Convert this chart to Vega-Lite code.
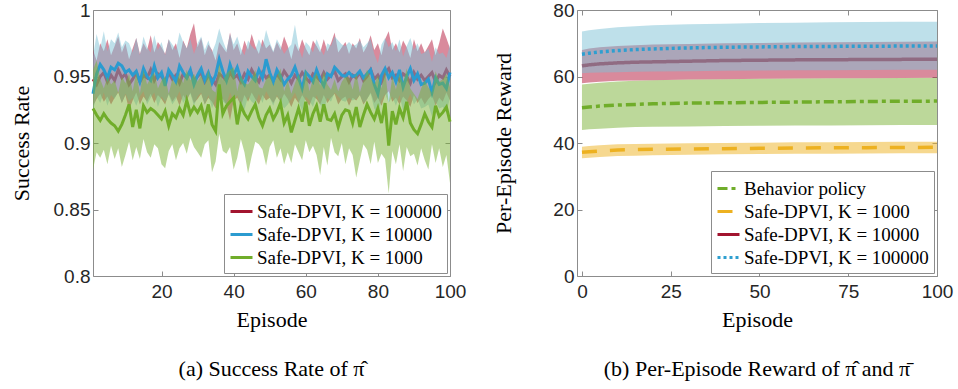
{
  "$schema": "https://vega.github.io/schema/vega-lite/v6.json",
  "padding": {"left": 9, "top": 0, "right": 2, "bottom": 0},
  "spacing": 25,
  "resolve": {"scale": {"color": "independent", "strokeDash": "independent"}, "legend": {"color": "independent", "strokeDash": "independent"}},
  "config": {
    "font": "Liberation Serif",
    "view": {"stroke": "#8c8c8c", "strokeWidth": 1},
    "axis": {"grid": false, "domain": false, "tickColor": "#8c8c8c", "tickSize": -5, "labelFont": "Liberation Sans", "labelFontSize": 19, "labelColor": "#262626", "labelFlush": false, "titleFont": "Liberation Serif", "titleFontSize": 22, "titleFontWeight": "normal", "titleColor": "#000000", "labelPadding": 8},
    "axisX": {"labelPadding": 11},
    "legend": {"orient": "bottom-right", "offset": 3, "fillColor": "#ffffff", "strokeColor": "#8c8c8c", "padding": 5, "labelFont": "Liberation Serif", "labelFontSize": 19, "labelFontWeight": "normal", "labelColor": "#000000", "labelLimit": 400, "symbolType": "stroke", "symbolStrokeWidth": 3, "symbolSize": 484, "rowPadding": 0, "labelOffset": 3, "cornerRadius": 0},
    "title": {"font": "Liberation Serif", "fontSize": 22, "fontWeight": "normal", "color": "#000000", "orient": "bottom", "anchor": "middle", "offset": 29}
  },
  "datasets": {
    "red": [
      {"e":1,"m":0.948,"lo":0.928,"hi":0.970},{"e":2,"m":0.944,"lo":0.933,"hi":0.962},{"e":3,"m":0.950,"lo":0.937,"hi":0.975},{"e":4,"m":0.953,"lo":0.931,"hi":0.969},{"e":5,"m":0.946,"lo":0.935,"hi":0.978},
      {"e":6,"m":0.951,"lo":0.929,"hi":0.966},{"e":7,"m":0.947,"lo":0.934,"hi":0.973},{"e":8,"m":0.955,"lo":0.938,"hi":0.980},{"e":9,"m":0.949,"lo":0.930,"hi":0.968},{"e":10,"m":0.952,"lo":0.936,"hi":0.975},
      {"e":11,"m":0.944,"lo":0.925,"hi":0.963},{"e":12,"m":0.948,"lo":0.932,"hi":0.971},{"e":13,"m":0.953,"lo":0.938,"hi":0.979},{"e":14,"m":0.946,"lo":0.929,"hi":0.967},{"e":15,"m":0.951,"lo":0.935,"hi":0.975},
      {"e":16,"m":0.949,"lo":0.931,"hi":0.970},{"e":17,"m":0.955,"lo":0.937,"hi":0.981},{"e":18,"m":0.947,"lo":0.930,"hi":0.968},{"e":19,"m":0.952,"lo":0.936,"hi":0.976},{"e":20,"m":0.950,"lo":0.933,"hi":0.972},
      {"e":21,"m":0.946,"lo":0.929,"hi":0.967},{"e":22,"m":0.953,"lo":0.937,"hi":0.978},{"e":23,"m":0.948,"lo":0.931,"hi":0.970},{"e":24,"m":0.951,"lo":0.935,"hi":0.975},{"e":25,"m":0.945,"lo":0.928,"hi":0.964},
      {"e":26,"m":0.952,"lo":0.936,"hi":0.977},{"e":27,"m":0.949,"lo":0.932,"hi":0.971},{"e":28,"m":0.954,"lo":0.938,"hi":0.982},{"e":29,"m":0.947,"lo":0.930,"hi":0.990},{"e":30,"m":0.950,"lo":0.933,"hi":0.972},
      {"e":31,"m":0.953,"lo":0.937,"hi":0.979},{"e":32,"m":0.946,"lo":0.929,"hi":0.966},{"e":33,"m":0.951,"lo":0.934,"hi":0.974},{"e":34,"m":0.948,"lo":0.931,"hi":0.970},{"e":35,"m":0.944,"lo":0.926,"hi":0.962},
      {"e":36,"m":0.952,"lo":0.935,"hi":0.976},{"e":37,"m":0.950,"lo":0.933,"hi":0.972},{"e":38,"m":0.947,"lo":0.929,"hi":0.968},{"e":39,"m":0.953,"lo":0.917,"hi":0.983},{"e":40,"m":0.949,"lo":0.932,"hi":0.970},
      {"e":41,"m":0.951,"lo":0.934,"hi":0.975},{"e":42,"m":0.946,"lo":0.928,"hi":0.966},{"e":43,"m":0.952,"lo":0.936,"hi":0.977},{"e":44,"m":0.948,"lo":0.931,"hi":0.970},{"e":45,"m":0.955,"lo":0.938,"hi":0.982},
      {"e":46,"m":0.950,"lo":0.933,"hi":0.973},{"e":47,"m":0.946,"lo":0.929,"hi":0.967},{"e":48,"m":0.953,"lo":0.936,"hi":0.978},{"e":49,"m":0.949,"lo":0.932,"hi":0.971},{"e":50,"m":0.951,"lo":0.934,"hi":0.974},
      {"e":51,"m":0.947,"lo":0.930,"hi":0.968},{"e":52,"m":0.952,"lo":0.935,"hi":0.976},{"e":53,"m":0.948,"lo":0.931,"hi":0.970},{"e":54,"m":0.954,"lo":0.937,"hi":0.980},{"e":55,"m":0.950,"lo":0.933,"hi":0.973},
      {"e":56,"m":0.945,"lo":0.927,"hi":0.963},{"e":57,"m":0.951,"lo":0.934,"hi":0.975},{"e":58,"m":0.948,"lo":0.930,"hi":0.969},{"e":59,"m":0.953,"lo":0.936,"hi":0.978},{"e":60,"m":0.949,"lo":0.932,"hi":0.971},
      {"e":61,"m":0.946,"lo":0.928,"hi":0.966},{"e":62,"m":0.952,"lo":0.935,"hi":0.977},{"e":63,"m":0.950,"lo":0.933,"hi":0.973},{"e":64,"m":0.947,"lo":0.929,"hi":0.968},{"e":65,"m":0.953,"lo":0.936,"hi":0.978},
      {"e":66,"m":0.948,"lo":0.930,"hi":0.969},{"e":67,"m":0.951,"lo":0.934,"hi":0.975},{"e":68,"m":0.954,"lo":0.937,"hi":0.983},{"e":69,"m":0.947,"lo":0.929,"hi":0.968},{"e":70,"m":0.950,"lo":0.933,"hi":0.972},
      {"e":71,"m":0.952,"lo":0.935,"hi":0.976},{"e":72,"m":0.946,"lo":0.928,"hi":0.967},{"e":73,"m":0.951,"lo":0.934,"hi":0.975},{"e":74,"m":0.949,"lo":0.932,"hi":0.971},{"e":75,"m":0.953,"lo":0.936,"hi":0.979},
      {"e":76,"m":0.947,"lo":0.929,"hi":0.968},{"e":77,"m":0.950,"lo":0.933,"hi":0.973},{"e":78,"m":0.955,"lo":0.938,"hi":0.981},{"e":79,"m":0.948,"lo":0.930,"hi":0.970},{"e":80,"m":0.951,"lo":0.934,"hi":0.975},
      {"e":81,"m":0.946,"lo":0.928,"hi":0.966},{"e":82,"m":0.953,"lo":0.936,"hi":0.978},{"e":83,"m":0.956,"lo":0.939,"hi":0.984},{"e":84,"m":0.949,"lo":0.931,"hi":0.970},{"e":85,"m":0.951,"lo":0.934,"hi":0.975},
      {"e":86,"m":0.947,"lo":0.929,"hi":0.968},{"e":87,"m":0.952,"lo":0.935,"hi":0.977},{"e":88,"m":0.950,"lo":0.932,"hi":0.972},{"e":89,"m":0.945,"lo":0.927,"hi":0.964},{"e":90,"m":0.953,"lo":0.936,"hi":0.978},
      {"e":91,"m":0.948,"lo":0.930,"hi":0.969},{"e":92,"m":0.951,"lo":0.934,"hi":0.975},{"e":93,"m":0.947,"lo":0.929,"hi":0.968},{"e":94,"m":0.950,"lo":0.933,"hi":0.973},{"e":95,"m":0.953,"lo":0.936,"hi":0.978},
      {"e":96,"m":0.946,"lo":0.928,"hi":0.966},{"e":97,"m":0.951,"lo":0.934,"hi":0.975},{"e":98,"m":0.949,"lo":0.931,"hi":0.986},{"e":99,"m":0.955,"lo":0.938,"hi":0.979},{"e":100,"m":0.950,"lo":0.932,"hi":0.971}
    ],
    "blue": [
      {"e":1,"m":0.937,"lo":0.925,"hi":0.965},{"e":2,"m":0.952,"lo":0.935,"hi":0.982},{"e":3,"m":0.959,"lo":0.930,"hi":0.971},{"e":4,"m":0.955,"lo":0.938,"hi":0.984},{"e":5,"m":0.949,"lo":0.928,"hi":0.969},
      {"e":6,"m":0.957,"lo":0.936,"hi":0.978},{"e":7,"m":0.955,"lo":0.933,"hi":0.975},{"e":8,"m":0.960,"lo":0.939,"hi":0.983},{"e":9,"m":0.958,"lo":0.930,"hi":0.972},{"e":10,"m":0.953,"lo":0.937,"hi":0.977},
      {"e":11,"m":0.955,"lo":0.931,"hi":0.975},{"e":12,"m":0.951,"lo":0.934,"hi":0.968},{"e":13,"m":0.954,"lo":0.928,"hi":0.979},{"e":14,"m":0.946,"lo":0.935,"hi":0.966},{"e":15,"m":0.956,"lo":0.939,"hi":0.980},
      {"e":16,"m":0.950,"lo":0.929,"hi":0.972},{"e":17,"m":0.947,"lo":0.934,"hi":0.968},{"e":18,"m":0.958,"lo":0.938,"hi":0.981},{"e":19,"m":0.949,"lo":0.927,"hi":0.970},{"e":20,"m":0.953,"lo":0.935,"hi":0.976},
      {"e":21,"m":0.943,"lo":0.931,"hi":0.966},{"e":22,"m":0.955,"lo":0.936,"hi":0.978},{"e":23,"m":0.951,"lo":0.929,"hi":0.974},{"e":24,"m":0.946,"lo":0.933,"hi":0.970},{"e":25,"m":0.958,"lo":0.939,"hi":0.983},
      {"e":26,"m":0.953,"lo":0.930,"hi":0.976},{"e":27,"m":0.949,"lo":0.934,"hi":0.971},{"e":28,"m":0.955,"lo":0.937,"hi":0.978},{"e":29,"m":0.944,"lo":0.928,"hi":0.967},{"e":30,"m":0.951,"lo":0.935,"hi":0.975},
      {"e":31,"m":0.956,"lo":0.938,"hi":0.980},{"e":32,"m":0.947,"lo":0.929,"hi":0.970},{"e":33,"m":0.953,"lo":0.936,"hi":0.977},{"e":34,"m":0.945,"lo":0.926,"hi":0.968},{"e":35,"m":0.951,"lo":0.934,"hi":0.975},
      {"e":36,"m":0.963,"lo":0.942,"hi":0.986},{"e":37,"m":0.954,"lo":0.931,"hi":0.977},{"e":38,"m":0.947,"lo":0.929,"hi":0.970},{"e":39,"m":0.959,"lo":0.938,"hi":0.982},{"e":40,"m":0.951,"lo":0.932,"hi":0.974},
      {"e":41,"m":0.957,"lo":0.936,"hi":0.980},{"e":42,"m":0.948,"lo":0.928,"hi":0.971},{"e":43,"m":0.944,"lo":0.925,"hi":0.966},{"e":44,"m":0.954,"lo":0.935,"hi":0.977},{"e":45,"m":0.950,"lo":0.931,"hi":0.973},
      {"e":46,"m":0.947,"lo":0.929,"hi":0.970},{"e":47,"m":0.955,"lo":0.937,"hi":0.978},{"e":48,"m":0.949,"lo":0.930,"hi":0.972},{"e":49,"m":0.963,"lo":0.939,"hi":0.985},{"e":50,"m":0.953,"lo":0.934,"hi":0.976},
      {"e":51,"m":0.946,"lo":0.928,"hi":0.969},{"e":52,"m":0.955,"lo":0.936,"hi":0.978},{"e":53,"m":0.950,"lo":0.931,"hi":0.973},{"e":54,"m":0.944,"lo":0.926,"hi":0.967},{"e":55,"m":0.948,"lo":0.929,"hi":0.971},
      {"e":56,"m":0.951,"lo":0.933,"hi":0.974},{"e":57,"m":0.957,"lo":0.938,"hi":0.989},{"e":58,"m":0.949,"lo":0.931,"hi":0.972},{"e":59,"m":0.941,"lo":0.924,"hi":0.964},{"e":60,"m":0.953,"lo":0.935,"hi":0.976},
      {"e":61,"m":0.950,"lo":0.932,"hi":0.973},{"e":62,"m":0.946,"lo":0.927,"hi":0.968},{"e":63,"m":0.955,"lo":0.936,"hi":0.978},{"e":64,"m":0.948,"lo":0.929,"hi":0.971},{"e":65,"m":0.943,"lo":0.925,"hi":0.966},
      {"e":66,"m":0.952,"lo":0.934,"hi":0.975},{"e":67,"m":0.950,"lo":0.931,"hi":0.973},{"e":68,"m":0.957,"lo":0.938,"hi":0.980},{"e":69,"m":0.954,"lo":0.935,"hi":0.977},{"e":70,"m":0.951,"lo":0.932,"hi":0.974},
      {"e":71,"m":0.950,"lo":0.931,"hi":0.973},{"e":72,"m":0.953,"lo":0.934,"hi":0.976},{"e":73,"m":0.950,"lo":0.932,"hi":0.973},{"e":74,"m":0.951,"lo":0.933,"hi":0.974},{"e":75,"m":0.954,"lo":0.936,"hi":0.977},
      {"e":76,"m":0.949,"lo":0.930,"hi":0.972},{"e":77,"m":0.952,"lo":0.933,"hi":0.975},{"e":78,"m":0.955,"lo":0.937,"hi":0.978},{"e":79,"m":0.944,"lo":0.926,"hi":0.967},{"e":80,"m":0.937,"lo":0.922,"hi":0.960},
      {"e":81,"m":0.951,"lo":0.932,"hi":0.974},{"e":82,"m":0.956,"lo":0.937,"hi":0.979},{"e":83,"m":0.949,"lo":0.930,"hi":0.972},{"e":84,"m":0.953,"lo":0.935,"hi":0.976},{"e":85,"m":0.946,"lo":0.928,"hi":0.969},
      {"e":86,"m":0.955,"lo":0.936,"hi":0.978},{"e":87,"m":0.942,"lo":0.924,"hi":0.965},{"e":88,"m":0.950,"lo":0.931,"hi":0.973},{"e":89,"m":0.956,"lo":0.937,"hi":0.979},{"e":90,"m":0.947,"lo":0.929,"hi":0.970},
      {"e":91,"m":0.952,"lo":0.933,"hi":0.975},{"e":92,"m":0.944,"lo":0.926,"hi":0.967},{"e":93,"m":0.945,"lo":0.927,"hi":0.968},{"e":94,"m":0.948,"lo":0.929,"hi":0.971},{"e":95,"m":0.938,"lo":0.920,"hi":0.961},
      {"e":96,"m":0.949,"lo":0.931,"hi":0.972},{"e":97,"m":0.944,"lo":0.926,"hi":0.967},{"e":98,"m":0.945,"lo":0.927,"hi":0.968},{"e":99,"m":0.941,"lo":0.923,"hi":0.964},{"e":100,"m":0.953,"lo":0.934,"hi":0.974}
    ],
    "green": [
      {"e":1,"m":0.926,"lo":0.880,"hi":0.955},{"e":2,"m":0.921,"lo":0.893,"hi":0.962},{"e":3,"m":0.917,"lo":0.889,"hi":0.948},{"e":4,"m":0.922,"lo":0.895,"hi":0.941},{"e":5,"m":0.918,"lo":0.884,"hi":0.950},
      {"e":6,"m":0.915,"lo":0.898,"hi":0.944},{"e":7,"m":0.913,"lo":0.888,"hi":0.947},{"e":8,"m":0.909,"lo":0.896,"hi":0.938},{"e":9,"m":0.914,"lo":0.882,"hi":0.950},{"e":10,"m":0.921,"lo":0.891,"hi":0.945},
      {"e":11,"m":0.929,"lo":0.901,"hi":0.952},{"e":12,"m":0.912,"lo":0.887,"hi":0.939},{"e":13,"m":0.925,"lo":0.897,"hi":0.953},{"e":14,"m":0.911,"lo":0.888,"hi":0.937},{"e":15,"m":0.928,"lo":0.903,"hi":0.955},
      {"e":16,"m":0.923,"lo":0.893,"hi":0.944},{"e":17,"m":0.926,"lo":0.889,"hi":0.949},{"e":18,"m":0.924,"lo":0.899,"hi":0.953},{"e":19,"m":0.921,"lo":0.896,"hi":0.941},{"e":20,"m":0.918,"lo":0.884,"hi":0.947},
      {"e":21,"m":0.924,"lo":0.881,"hi":0.950},{"e":22,"m":0.913,"lo":0.894,"hi":0.937},{"e":23,"m":0.922,"lo":0.899,"hi":0.948},{"e":24,"m":0.919,"lo":0.887,"hi":0.944},{"e":25,"m":0.926,"lo":0.896,"hi":0.953},
      {"e":26,"m":0.921,"lo":0.900,"hi":0.945},{"e":27,"m":0.932,"lo":0.892,"hi":0.955},{"e":28,"m":0.922,"lo":0.904,"hi":0.947},{"e":29,"m":0.927,"lo":0.897,"hi":0.952},{"e":30,"m":0.923,"lo":0.893,"hi":0.946},
      {"e":31,"m":0.928,"lo":0.889,"hi":0.951},{"e":32,"m":0.918,"lo":0.899,"hi":0.943},{"e":33,"m":0.929,"lo":0.902,"hi":0.955},{"e":34,"m":0.914,"lo":0.878,"hi":0.940},{"e":35,"m":0.909,"lo":0.886,"hi":0.938},
      {"e":36,"m":0.944,"lo":0.907,"hi":0.960},{"e":37,"m":0.922,"lo":0.894,"hi":0.947},{"e":38,"m":0.928,"lo":0.892,"hi":0.952},{"e":39,"m":0.931,"lo":0.897,"hi":0.955},{"e":40,"m":0.934,"lo":0.880,"hi":0.957},
      {"e":41,"m":0.914,"lo":0.889,"hi":0.939},{"e":42,"m":0.928,"lo":0.903,"hi":0.951},{"e":43,"m":0.922,"lo":0.893,"hi":0.945},{"e":44,"m":0.918,"lo":0.877,"hi":0.944},{"e":45,"m":0.924,"lo":0.890,"hi":0.948},
      {"e":46,"m":0.929,"lo":0.901,"hi":0.955},{"e":47,"m":0.919,"lo":0.899,"hi":0.942},{"e":48,"m":0.913,"lo":0.895,"hi":0.941},{"e":49,"m":0.921,"lo":0.883,"hi":0.948},{"e":50,"m":0.926,"lo":0.897,"hi":0.952},
      {"e":51,"m":0.918,"lo":0.902,"hi":0.943},{"e":52,"m":0.923,"lo":0.889,"hi":0.950},{"e":53,"m":0.930,"lo":0.896,"hi":0.956},{"e":54,"m":0.915,"lo":0.884,"hi":0.939},{"e":55,"m":0.921,"lo":0.893,"hi":0.947},
      {"e":56,"m":0.908,"lo":0.885,"hi":0.937},{"e":57,"m":0.917,"lo":0.899,"hi":0.945},{"e":58,"m":0.926,"lo":0.893,"hi":0.952},{"e":59,"m":0.916,"lo":0.887,"hi":0.940},{"e":60,"m":0.931,"lo":0.902,"hi":0.956},
      {"e":61,"m":0.913,"lo":0.893,"hi":0.939},{"e":62,"m":0.922,"lo":0.898,"hi":0.948},{"e":63,"m":0.928,"lo":0.891,"hi":0.953},{"e":64,"m":0.916,"lo":0.876,"hi":0.943},{"e":65,"m":0.929,"lo":0.897,"hi":0.954},
      {"e":66,"m":0.918,"lo":0.883,"hi":0.944},{"e":67,"m":0.917,"lo":0.904,"hi":0.940},{"e":68,"m":0.922,"lo":0.893,"hi":0.948},{"e":69,"m":0.912,"lo":0.890,"hi":0.939},{"e":70,"m":0.921,"lo":0.900,"hi":0.946},
      {"e":71,"m":0.925,"lo":0.884,"hi":0.950},{"e":72,"m":0.924,"lo":0.896,"hi":0.949},{"e":73,"m":0.915,"lo":0.891,"hi":0.940},{"e":74,"m":0.927,"lo":0.874,"hi":0.953},{"e":75,"m":0.912,"lo":0.887,"hi":0.938},
      {"e":76,"m":0.921,"lo":0.899,"hi":0.947},{"e":77,"m":0.929,"lo":0.895,"hi":0.955},{"e":78,"m":0.923,"lo":0.884,"hi":0.949},{"e":79,"m":0.918,"lo":0.901,"hi":0.944},{"e":80,"m":0.926,"lo":0.885,"hi":0.951},
      {"e":81,"m":0.915,"lo":0.892,"hi":0.941},{"e":82,"m":0.930,"lo":0.888,"hi":0.955},{"e":83,"m":0.898,"lo":0.862,"hi":0.930},{"e":84,"m":0.924,"lo":0.894,"hi":0.950},{"e":85,"m":0.914,"lo":0.884,"hi":0.940},
      {"e":86,"m":0.926,"lo":0.899,"hi":0.952},{"e":87,"m":0.919,"lo":0.879,"hi":0.945},{"e":88,"m":0.931,"lo":0.897,"hi":0.956},{"e":89,"m":0.915,"lo":0.890,"hi":0.941},{"e":90,"m":0.910,"lo":0.892,"hi":0.937},
      {"e":91,"m":0.907,"lo":0.883,"hi":0.933},{"e":92,"m":0.914,"lo":0.896,"hi":0.941},{"e":93,"m":0.922,"lo":0.887,"hi":0.947},{"e":94,"m":0.916,"lo":0.880,"hi":0.942},{"e":95,"m":0.912,"lo":0.899,"hi":0.938},
      {"e":96,"m":0.928,"lo":0.885,"hi":0.954},{"e":97,"m":0.920,"lo":0.896,"hi":0.946},{"e":98,"m":0.923,"lo":0.882,"hi":0.948},{"e":99,"m":0.927,"lo":0.891,"hi":0.952},{"e":100,"m":0.916,"lo":0.870,"hi":0.942}
    ],
    "reward": [
      {"s":"Behavior policy","e":0,"m":50.6,"lo":43.9,"hi":57.6},{"s":"Behavior policy","e":2,"m":50.8,"lo":44.1,"hi":57.8},{"s":"Behavior policy","e":5,"m":51.1,"lo":44.3,"hi":58.1},{"s":"Behavior policy","e":10,"m":51.4,"lo":44.6,"hi":58.5},{"s":"Behavior policy","e":15,"m":51.6,"lo":44.8,"hi":58.7},{"s":"Behavior policy","e":20,"m":51.8,"lo":44.9,"hi":58.9},{"s":"Behavior policy","e":30,"m":52.0,"lo":45.0,"hi":59.1},{"s":"Behavior policy","e":40,"m":52.1,"lo":45.1,"hi":59.2},{"s":"Behavior policy","e":50,"m":52.2,"lo":45.2,"hi":59.3},{"s":"Behavior policy","e":60,"m":52.3,"lo":45.25,"hi":59.4},{"s":"Behavior policy","e":70,"m":52.4,"lo":45.3,"hi":59.45},{"s":"Behavior policy","e":80,"m":52.5,"lo":45.35,"hi":59.5},{"s":"Behavior policy","e":90,"m":52.55,"lo":45.4,"hi":59.55},{"s":"Behavior policy","e":100,"m":52.6,"lo":45.4,"hi":59.6},
      {"s":"Safe-DPVI, K = 1000","e":0,"m":37.2,"lo":35.4,"hi":38.9},{"s":"Safe-DPVI, K = 1000","e":2,"m":37.4,"lo":35.6,"hi":39.1},{"s":"Safe-DPVI, K = 1000","e":5,"m":37.6,"lo":35.8,"hi":39.3},{"s":"Safe-DPVI, K = 1000","e":10,"m":37.9,"lo":36.1,"hi":39.6},{"s":"Safe-DPVI, K = 1000","e":15,"m":38.0,"lo":36.2,"hi":39.7},{"s":"Safe-DPVI, K = 1000","e":20,"m":38.1,"lo":36.3,"hi":39.8},{"s":"Safe-DPVI, K = 1000","e":30,"m":38.2,"lo":36.5,"hi":39.9},{"s":"Safe-DPVI, K = 1000","e":40,"m":38.3,"lo":36.6,"hi":40.0},{"s":"Safe-DPVI, K = 1000","e":50,"m":38.4,"lo":36.7,"hi":40.1},{"s":"Safe-DPVI, K = 1000","e":60,"m":38.5,"lo":36.75,"hi":40.2},{"s":"Safe-DPVI, K = 1000","e":70,"m":38.55,"lo":36.8,"hi":40.25},{"s":"Safe-DPVI, K = 1000","e":80,"m":38.6,"lo":36.85,"hi":40.3},{"s":"Safe-DPVI, K = 1000","e":90,"m":38.65,"lo":36.9,"hi":40.35},{"s":"Safe-DPVI, K = 1000","e":100,"m":38.7,"lo":36.9,"hi":40.4},
      {"s":"Safe-DPVI, K = 10000","e":0,"m":63.2,"lo":58.0,"hi":68.0},{"s":"Safe-DPVI, K = 10000","e":2,"m":63.5,"lo":58.2,"hi":68.4},{"s":"Safe-DPVI, K = 10000","e":5,"m":63.8,"lo":58.4,"hi":68.8},{"s":"Safe-DPVI, K = 10000","e":10,"m":64.1,"lo":58.7,"hi":69.2},{"s":"Safe-DPVI, K = 10000","e":15,"m":64.3,"lo":58.8,"hi":69.4},{"s":"Safe-DPVI, K = 10000","e":20,"m":64.4,"lo":58.9,"hi":69.6},{"s":"Safe-DPVI, K = 10000","e":30,"m":64.6,"lo":59.1,"hi":69.8},{"s":"Safe-DPVI, K = 10000","e":40,"m":64.8,"lo":59.2,"hi":70.0},{"s":"Safe-DPVI, K = 10000","e":50,"m":64.9,"lo":59.3,"hi":70.1},{"s":"Safe-DPVI, K = 10000","e":60,"m":65.0,"lo":59.4,"hi":70.2},{"s":"Safe-DPVI, K = 10000","e":70,"m":65.05,"lo":59.45,"hi":70.3},{"s":"Safe-DPVI, K = 10000","e":80,"m":65.1,"lo":59.5,"hi":70.4},{"s":"Safe-DPVI, K = 10000","e":90,"m":65.15,"lo":59.55,"hi":70.45},{"s":"Safe-DPVI, K = 10000","e":100,"m":65.2,"lo":59.6,"hi":70.5},
      {"s":"Safe-DPVI, K = 100000","e":0,"m":66.7,"lo":61.0,"hi":73.5},{"s":"Safe-DPVI, K = 100000","e":2,"m":67.0,"lo":61.1,"hi":73.9},{"s":"Safe-DPVI, K = 100000","e":5,"m":67.4,"lo":61.2,"hi":74.3},{"s":"Safe-DPVI, K = 100000","e":10,"m":67.8,"lo":61.3,"hi":74.8},{"s":"Safe-DPVI, K = 100000","e":15,"m":68.1,"lo":61.4,"hi":75.1},{"s":"Safe-DPVI, K = 100000","e":20,"m":68.3,"lo":61.5,"hi":75.4},{"s":"Safe-DPVI, K = 100000","e":30,"m":68.6,"lo":61.6,"hi":75.7},{"s":"Safe-DPVI, K = 100000","e":40,"m":68.8,"lo":61.7,"hi":75.9},{"s":"Safe-DPVI, K = 100000","e":50,"m":68.9,"lo":61.8,"hi":76.1},{"s":"Safe-DPVI, K = 100000","e":60,"m":69.0,"lo":61.85,"hi":76.2},{"s":"Safe-DPVI, K = 100000","e":70,"m":69.05,"lo":61.9,"hi":76.3},{"s":"Safe-DPVI, K = 100000","e":80,"m":69.1,"lo":61.95,"hi":76.4},{"s":"Safe-DPVI, K = 100000","e":90,"m":69.15,"lo":62.0,"hi":76.45},{"s":"Safe-DPVI, K = 100000","e":100,"m":69.2,"lo":62.0,"hi":76.5}
    ]
  },
  "hconcat": [
    {
      "width": 357,
      "height": 266,
      "title": {"text": "(a) Success Rate of \u03c0\u0302", "font": "Liberation Serif"},
      "layer": [
        {
          "encoding": {
            "x": {"field": "e", "type": "quantitative", "scale": {"domain": [1, 100], "nice": false}, "title": "Episode", "axis": {"values": [20, 40, 60, 80, 100], "titlePadding": 8, "titleFont": "Liberation Serif", "titleFontWeight": "normal"}}
          },
          "layer": [
            {"data": {"name": "red"}, "mark": {"type": "area", "color": "#b3163a", "opacity": 0.5}, "encoding": {"y": {"field": "lo", "type": "quantitative", "scale": {"domain": [0.8, 1], "nice": false}, "title": "Success Rate", "axis": {"values": [0.8, 0.85, 0.9, 0.95, 1], "format": ".2~f", "titlePadding": 20, "titleFont": "Liberation Serif", "titleFontWeight": "normal"}}, "y2": {"field": "hi"}}},
            {"data": {"name": "red"}, "mark": {"type": "line", "strokeWidth": 3}, "encoding": {"y": {"field": "m", "type": "quantitative", "title": "Success Rate"}, "color": {"datum": "Safe-DPVI, K = 100000", "type": "nominal", "scale": {"domain": ["Safe-DPVI, K = 100000", "Safe-DPVI, K = 10000", "Safe-DPVI, K = 1000"], "range": ["#a2142f", "#2b9bd0", "#70ad2a"]}, "legend": {"title": null, "labelFont": "Liberation Serif"}}}},
            {"data": {"name": "blue"}, "mark": {"type": "area", "color": "#7dc1d5", "opacity": 0.5}, "encoding": {"y": {"field": "lo", "type": "quantitative", "title": "Success Rate"}, "y2": {"field": "hi"}}},
            {"data": {"name": "blue"}, "mark": {"type": "line", "strokeWidth": 3}, "encoding": {"y": {"field": "m", "type": "quantitative", "title": "Success Rate"}, "color": {"datum": "Safe-DPVI, K = 10000", "type": "nominal"}}},
            {"data": {"name": "green"}, "mark": {"type": "area", "color": "#79b135", "opacity": 0.5}, "encoding": {"y": {"field": "lo", "type": "quantitative", "title": "Success Rate"}, "y2": {"field": "hi"}}},
            {"data": {"name": "green"}, "mark": {"type": "line", "strokeWidth": 3}, "encoding": {"y": {"field": "m", "type": "quantitative", "title": "Success Rate"}, "color": {"datum": "Safe-DPVI, K = 1000", "type": "nominal"}}}
          ]
        },
        {
          "data": {"name": "red"},
          "mark": {"type": "line", "opacity": 0},
          "encoding": {
            "x": {"field": "e", "type": "quantitative", "scale": {"domain": [1, 100], "nice": false}, "axis": {"orient": "top", "labels": false, "title": null, "values": [20, 40, 60, 80, 100]}},
            "y": {"field": "m", "type": "quantitative", "scale": {"domain": [0.8, 1], "nice": false}, "axis": {"orient": "right", "labels": false, "title": null, "values": [0.8, 0.85, 0.9, 0.95, 1]}}
          }
        }
      ],
      "resolve": {"axis": {"x": "independent", "y": "independent"}}
    },
    {
      "width": 360,
      "height": 266,
      "title": {"text": "(b) Per-Episode Reward of \u03c0\u0302 and \u03c0\u0304", "font": "Liberation Serif"},
      "layer": [
        {
          "data": {"name": "reward"},
          "encoding": {
            "x": {"field": "e", "type": "quantitative", "scale": {"domain": [-1.4, 100], "nice": false}, "title": "Episode", "axis": {"values": [0, 25, 50, 75, 100], "titlePadding": 8, "titleFont": "Liberation Serif", "titleFontWeight": "normal"}}
          },
          "layer": [
            {"transform": [{"filter": "datum.s === 'Behavior policy'"}], "mark": {"type": "area", "color": "#79b135", "opacity": 0.5}, "encoding": {"y": {"field": "lo", "type": "quantitative", "scale": {"domain": [0, 80], "nice": false}, "title": "Per-Episode Reward", "axis": {"values": [0, 20, 40, 60, 80], "titlePadding": 37, "titleFont": "Liberation Serif", "titleFontWeight": "normal"}}, "y2": {"field": "hi"}}},
            {"transform": [{"filter": "datum.s === 'Behavior policy'"}], "mark": {"type": "line", "strokeWidth": 3.5}, "encoding": {"y": {"field": "m", "type": "quantitative", "title": "Per-Episode Reward"}, "color": {"field": "s", "type": "nominal", "scale": {"domain": ["Behavior policy", "Safe-DPVI, K = 1000", "Safe-DPVI, K = 10000", "Safe-DPVI, K = 100000"], "range": ["#70ad2a", "#edb120", "#a2142f", "#2e9fd0"]}, "legend": {"title": null, "labelFont": "Liberation Serif"}}, "strokeDash": {"field": "s", "type": "nominal", "scale": {"domain": ["Behavior policy", "Safe-DPVI, K = 1000", "Safe-DPVI, K = 10000", "Safe-DPVI, K = 100000"], "range": [[10, 4, 4, 4], [15, 13], [1, 0], [3, 3]]}, "legend": {"title": null, "labelFont": "Liberation Serif"}}}},
            {"transform": [{"filter": "datum.s === 'Safe-DPVI, K = 1000'"}], "mark": {"type": "area", "color": "#edb120", "opacity": 0.5}, "encoding": {"y": {"field": "lo", "type": "quantitative", "title": "Per-Episode Reward"}, "y2": {"field": "hi"}}},
            {"transform": [{"filter": "datum.s === 'Safe-DPVI, K = 1000'"}], "mark": {"type": "line", "strokeWidth": 3.5}, "encoding": {"y": {"field": "m", "type": "quantitative", "title": "Per-Episode Reward"}, "color": {"field": "s", "type": "nominal"}, "strokeDash": {"field": "s", "type": "nominal"}}},
            {"transform": [{"filter": "datum.s === 'Safe-DPVI, K = 10000'"}], "mark": {"type": "area", "color": "#b3163a", "opacity": 0.5}, "encoding": {"y": {"field": "lo", "type": "quantitative", "title": "Per-Episode Reward"}, "y2": {"field": "hi"}}},
            {"transform": [{"filter": "datum.s === 'Safe-DPVI, K = 10000'"}], "mark": {"type": "line", "strokeWidth": 3.5}, "encoding": {"y": {"field": "m", "type": "quantitative", "title": "Per-Episode Reward"}, "color": {"field": "s", "type": "nominal"}, "strokeDash": {"field": "s", "type": "nominal"}}},
            {"transform": [{"filter": "datum.s === 'Safe-DPVI, K = 100000'"}], "mark": {"type": "area", "color": "#7dc1d5", "opacity": 0.5}, "encoding": {"y": {"field": "lo", "type": "quantitative", "title": "Per-Episode Reward"}, "y2": {"field": "hi"}}},
            {"transform": [{"filter": "datum.s === 'Safe-DPVI, K = 100000'"}], "mark": {"type": "line", "strokeWidth": 3.5}, "encoding": {"y": {"field": "m", "type": "quantitative", "title": "Per-Episode Reward"}, "color": {"field": "s", "type": "nominal"}, "strokeDash": {"field": "s", "type": "nominal"}}}
          ]
        },
        {
          "data": {"name": "reward"},
          "mark": {"type": "line", "opacity": 0},
          "encoding": {
            "x": {"field": "e", "type": "quantitative", "scale": {"domain": [-1.4, 100], "nice": false}, "axis": {"orient": "top", "labels": false, "title": null, "values": [0, 25, 50, 75, 100]}},
            "y": {"field": "m", "type": "quantitative", "scale": {"domain": [0, 80], "nice": false}, "axis": {"orient": "right", "labels": false, "title": null, "values": [0, 20, 40, 60, 80]}},
            "detail": {"field": "s", "type": "nominal"}
          }
        }
      ],
      "resolve": {"axis": {"x": "independent", "y": "independent"}}
    }
  ]
}
